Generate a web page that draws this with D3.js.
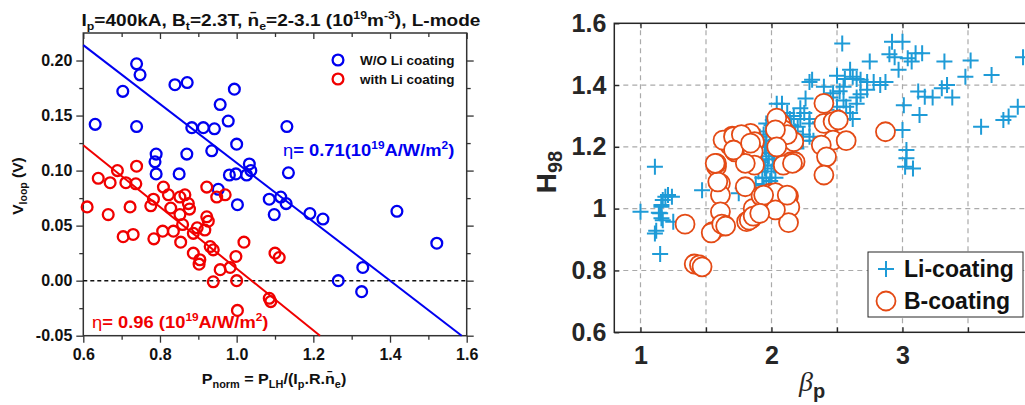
<!DOCTYPE html>
<html>
<head>
<meta charset="utf-8">
<script src="https://cdn.jsdelivr.net/npm/d3@7"></script>
<style>
  body { margin: 0; background: #fff; }
  text { font-family: "Liberation Sans", Arial, sans-serif; }
</style>
</head>
<body>
<div id="chart"></div>
<script>
// ---- left panel data: [P_norm, V_loop]
const woLi = [[0.631,0.142],[0.703,0.172],[0.739,0.197],[0.748,0.187],[0.739,0.140],[0.79,0.115],[0.787,0.108],[0.79,0.097],
  [0.839,0.178],[0.871,0.180],[0.85,0.097],[0.87,0.115],[0.883,0.139],[0.913,0.139],[0.942,0.138],[0.957,0.160],[0.935,0.118],
  [0.978,0.145],[0.994,0.174],[1.0,0.124],[0.981,0.096],[0.952,0.083],[0.998,0.097],[1.026,0.096],[1.033,0.106],[1.037,0.100],
  [1.002,0.069],[1.131,0.140],[1.135,0.098],[1.085,0.074],[1.115,0.076],[1.129,0.070],[1.098,0.060],[1.191,0.061],[1.225,0.056],
  [1.418,0.063],[1.522,0.034],[1.329,0.012],[1.265,0.000],[1.326,-0.010]];
const withLi = [[0.610,0.067],[0.639,0.093],[0.670,0.089],[0.689,0.100],[0.711,0.089],[0.739,0.104],[0.737,0.088],[0.665,0.060],
  [0.722,0.067],[0.783,0.074],[0.776,0.068],[0.809,0.085],[0.822,0.078],[0.828,0.066],[0.852,0.076],[0.865,0.078],[0.874,0.070],
  [0.877,0.065],[0.852,0.060],[0.922,0.085],[0.948,0.076],[0.970,0.078],[0.922,0.058],[0.704,0.040],[0.730,0.042],[0.784,0.038],
  [0.807,0.045],[0.835,0.045],[0.854,0.035],[0.859,0.051],[0.887,0.043],[0.897,0.048],[0.917,0.046],[0.926,0.054],[0.887,0.025],
  [0.904,0.019],[0.902,0.015],[0.931,0.031],[0.939,0.028],[0.957,0.010],[0.983,0.012],[0.998,0.022],[1.0,0.000],[0.939,-0.001],
  [1.019,0.035],[1.002,-0.027],[1.100,0.025],[1.111,0.021],[1.085,-0.016],[1.089,-0.019]];
const woLiFit = [[0.6,0.214],[1.587,-0.05]];
const withLiFit = [[0.6,0.123],[1.2175,-0.05]];
const leftXTicks = [0.6,0.8,1.0,1.2,1.4,1.6];
const leftYTicks = [-0.05,0.00,0.05,0.10,0.15,0.20];

// ---- right panel data: [beta_p, H98]
const liCoating = [[1.0,0.99],[1.11,0.92],[1.15,0.853],[1.15,0.985],[1.16,1.006],[1.17,1.028],[1.19,1.039],[1.21,1.044],[1.24,1.039],
  [1.17,0.963],[1.25,0.958],[1.11,1.136],[1.16,1.012],[1.14,0.987],[1.16,0.969],[1.12,0.929],[1.47,1.06],[1.75,1.05],[1.78,1.066],
  [1.88,1.08],[1.9,1.12],[1.92,1.15],[1.93,1.18],[1.95,1.2],[1.96,1.1],[1.97,1.14],[1.98,1.17],[1.99,1.22],[2.0,1.12],[2.01,1.16],
  [2.02,1.19],[1.94,1.06],[1.97,1.04],[2.0,1.07],[2.03,1.1],[1.96,1.25],[2.0,1.27],[2.04,1.23],[1.91,1.22],[1.95,1.13],[1.99,1.09],
  [2.02,1.14],[1.93,1.1],[1.89,1.16],[1.96,1.18],[2.05,1.17],[2.06,1.26],[1.98,1.2],[1.94,1.24],[2.04,1.2],[2.01,1.244],[1.96,1.276],
  [1.96,1.206],[1.91,1.233],[2.03,1.05],[1.98,1.07],[1.92,1.04],[1.94,1.077],[1.91,1.157],
  [2.08,1.34],[2.04,1.34],[2.12,1.31],[2.14,1.29],[2.17,1.30],[2.2,1.265],[2.22,1.29],[2.24,1.24],[2.22,1.325],[2.29,1.29],
  [2.29,1.276],[2.32,1.22],[2.19,1.195],[2.24,1.22],[2.29,1.233],[2.1,1.25],[2.15,1.27],[2.26,1.357],[2.31,1.417],[2.13,1.23],
  [2.18,1.25],[2.25,1.31],[2.37,1.28],[2.42,1.32],[2.5,1.33],[2.57,1.33],[2.52,1.298],[2.6,1.31],[2.65,1.34],[2.62,1.29],[2.55,1.35],
  [2.45,1.36],[2.47,1.374],[2.52,1.38],[2.65,1.36],[2.68,1.37],[2.73,1.385],[2.40,1.395],[2.55,1.395],[2.29,1.41],[2.50,1.43],
  [2.60,1.45],[2.62,1.427],[2.56,1.42],[2.65,1.42],[2.68,1.417],[2.73,1.41],[2.78,1.41],[2.83,1.40],[2.87,1.41],[2.54,1.535],
  [2.75,1.476],[2.01,1.287],
  [2.92,1.54],[3.0,1.54],[2.94,1.49],[2.90,1.50],[3.04,1.487],[3.10,1.503],[3.15,1.503],[3.07,1.476],[2.97,1.45],[3.32,1.476],
  [3.52,1.48],[3.48,1.427],[3.68,1.433],[3.92,1.49],[3.12,1.379],[3.17,1.362],[3.30,1.39],[3.34,1.40],[3.38,1.36],[3.23,1.36],
  [3.01,1.335],[3.13,1.303],[3.0,1.255],[3.60,1.265],[3.77,1.287],[3.81,1.298],[3.88,1.33],[3.03,1.19],[3.03,1.163],[3.08,1.13],
  [3.02,1.136]];
const bCoating = [[1.34,0.95],[1.41,0.821],[1.45,0.818],[1.47,0.812],[1.58,1.136],[1.61,1.082],[1.61,1.044],[1.61,0.99],[1.55,0.926],
  [1.61,0.942],[1.64,0.947],[1.59,1.087],[1.81,0.958],[1.85,0.969],[1.86,1.001],[1.93,1.039],[2.04,1.001],[1.80,1.071],[1.54,0.922],
  [1.62,0.95],[1.65,0.944],[1.58,1.147],[1.70,1.235],[1.68,1.206],[1.72,1.184],[1.78,1.222],[1.84,1.244],[1.87,1.217],[1.86,1.184],
  [1.87,1.141],[1.80,1.147],[1.83,0.963],[1.86,0.976],[1.92,1.041],[1.99,1.05],[2.03,1.052],[2.13,1.041],[2.14,1.005],[2.13,0.955],
  [2.07,1.276],[2.09,1.255],[2.10,1.233],[2.14,1.217],[2.09,1.19],[2.15,1.152],[2.09,1.141],[2.40,1.341],[2.40,1.276],[2.47,1.282],
  [2.51,1.287],[2.47,1.222],[2.57,1.22],[2.38,1.206],[2.42,1.168],[2.40,1.109],[2.87,1.249],[2.17,1.217],[2.18,1.152],[2.12,1.24],
  [2.16,1.147],[2.03,0.996],[2.12,1.044],[1.94,1.044],[1.91,0.985],[1.63,1.222],[1.71,1.233],[1.77,1.24],[1.71,1.19],[1.84,1.212],
  [2.04,1.293],[2.03,1.255],[2.04,1.2],[1.57,1.147]];
const rightXTicks = [1, 2, 3];
const rightXGrid = [1, 1.5, 2, 2.5, 3, 3.5, 4];
const rightYTicks = [0.6, 0.8, 1, 1.2, 1.4, 1.6];

const svg = d3.select("#chart").append("svg")
  .attr("width", 1025).attr("height", 405);

// ================= LEFT PANEL =================
const xL = d3.scaleLinear().domain([0.6, 1.6]).range([83.3, 466.7]);
const yL = d3.scaleLinear().domain([-0.05, 0.225]).range([335.7, 33]);
const axisCol = "#333";

const left = svg.append("g");

function styleAxis(g) {
  g.select(".domain").remove();
  g.selectAll(".tick line").attr("stroke", axisCol).attr("stroke-width", 1.3);
  g.selectAll("text").attr("fill", "#111").style("font-size", "16px").style("font-weight", "bold");
}

// minor ticks
left.append("g").attr("transform", "translate(0,335.7)")
  .call(d3.axisBottom(xL).tickValues(d3.range(0.7, 1.6, 0.2)).tickSize(4).tickFormat(""))
  .call(styleAxis);
left.append("g").attr("transform", "translate(83.3,0)")
  .call(d3.axisLeft(yL).tickValues([-0.025,0.025,0.075,0.125,0.175]).tickSize(4).tickFormat(""))
  .call(styleAxis);
left.append("g").attr("transform", "translate(466.7,0)")
  .call(d3.axisRight(yL).tickValues([-0.025,0.025,0.075,0.125,0.175]).tickSize(4).tickFormat(""))
  .call(styleAxis);
left.append("g").attr("transform", "translate(0,33)")
  .call(d3.axisBottom(xL).tickValues(d3.range(0.7, 1.6, 0.2)).tickSize(4).tickFormat(""))
  .call(styleAxis);

// major ticks
left.append("g").attr("transform", "translate(0,335.7)")
  .call(d3.axisBottom(xL).tickValues(leftXTicks).tickSize(7).tickPadding(6).tickFormat(d => d.toFixed(1)))
  .call(styleAxis);
left.append("g").attr("transform", "translate(83.3,0)")
  .call(d3.axisLeft(yL).tickValues(leftYTicks).tickSize(7).tickPadding(4).tickFormat(d => d.toFixed(2)))
  .call(styleAxis);
left.append("g").attr("transform", "translate(466.7,0)")
  .call(d3.axisRight(yL).tickValues(leftYTicks).tickSize(7).tickFormat(""))
  .call(styleAxis);
left.append("g").attr("transform", "translate(0,33)")
  .call(d3.axisBottom(xL).tickValues(leftXTicks).tickSize(6).tickFormat(""))
  .call(styleAxis);

left.append("rect")
  .attr("x", xL(0.6)).attr("y", yL(0.225))
  .attr("width", xL(1.6) - xL(0.6)).attr("height", yL(-0.05) - yL(0.225))
  .attr("fill", "none").attr("stroke", axisCol).attr("stroke-width", 1.5);

// zero line
left.append("line")
  .attr("x1", xL(0.6)).attr("x2", xL(1.6)).attr("y1", yL(0)).attr("y2", yL(0))
  .attr("stroke", "#111").attr("stroke-width", 1.5).attr("stroke-dasharray", "4,3");

const line = d3.line().x(d => xL(d[0])).y(d => yL(d[1]));
left.append("path").datum(woLiFit).attr("d", line)
  .attr("stroke", "#0000f0").attr("stroke-width", 2).attr("fill", "none");
left.append("path").datum(withLiFit).attr("d", line)
  .attr("stroke", "#f00000").attr("stroke-width", 2).attr("fill", "none");

left.append("g").selectAll("circle").data(woLi).enter().append("circle")
  .attr("cx", d => xL(d[0])).attr("cy", d => yL(d[1])).attr("r", 5.4)
  .attr("fill", "none").attr("stroke", "#0000f0").attr("stroke-width", 2.3);
left.append("g").selectAll("circle").data(withLi).enter().append("circle")
  .attr("cx", d => xL(d[0])).attr("cy", d => yL(d[1])).attr("r", 5.4)
  .attr("fill", "none").attr("stroke", "#f00000").attr("stroke-width", 2.3);

// legend
const legL = [["W/O Li coating", "#0000f0", 60], ["with Li coating", "#f00000", 79]];
legL.forEach(([t, c, y]) => {
  left.append("circle").attr("cx", 338).attr("cy", y).attr("r", 5.4)
    .attr("fill", "none").attr("stroke", c).attr("stroke-width", 2.3);
  left.append("text").attr("x", 360).attr("y", y + 5).text(t)
    .style("font-size", "13.5px").style("font-weight", "bold").attr("fill", "#111");
});

// annotations
function eta(g, x, y, col, val) {
  const t = g.append("text").attr("transform", `translate(${x},${y}) scale(1.08,1)`).attr("fill", col)
    .style("font-size", "17px").style("font-weight", "bold");
  t.append("tspan").text("\u03b7").style("font-weight", "normal");
  t.append("tspan").text("= " + val);
  t.append("tspan").attr("dy", -7).style("font-size", "11px").text("19");
  t.append("tspan").attr("dy", 7).text("A/W/m");
  t.append("tspan").attr("dy", -7).style("font-size", "11px").text("2");
  t.append("tspan").attr("dy", 7).text(")");
}
eta(left, 283, 156, "#0000f0", "0.71(10");
eta(left, 92, 328, "#f00000", "0.96 (10");

// title
const title = left.append("text").attr("transform", "translate(281,26) scale(1.12,1)").attr("text-anchor", "middle")
  .attr("fill", "#111").style("font-size", "17px").style("font-weight", "bold");
[["I",0,null],["p",4,"11px"],["=400kA, B",-4,null],["t",4,"11px"],["=2.3T, n\u0304",-4,null],["e",4,"11px"],
 ["=2-3.1 (10",-4,null],["19",-7,"11px"],["m",7,null],["-3",-7,"11px"],["), L-mode",7,null]]
  .forEach(([s, dy, fs]) => {
    const ts = title.append("tspan").attr("dy", dy).text(s);
    if (fs) ts.style("font-size", fs);
  });

// y label
const yl = left.append("text").attr("transform", "translate(23,186) rotate(-90)")
  .attr("text-anchor", "middle").attr("fill", "#111")
  .style("font-size", "15.5px").style("font-weight", "bold");
yl.append("tspan").text("V");
yl.append("tspan").attr("dy", 4).style("font-size", "10.5px").text("loop");
yl.append("tspan").attr("dy", -4).text(" (V)");

// x label
const xl = left.append("text").attr("transform", "translate(274,384) scale(1.04,1)").attr("text-anchor", "middle")
  .attr("fill", "#111").style("font-size", "15.5px").style("font-weight", "bold");
[["P",0,null],["norm",4,"10.5px"],[" = P",-4,null],["LH",4,"10.5px"],["/(I",-4,null],["p",4,"10.5px"],
 [".R.n\u0304",-4,null],["e",4,"10.5px"],[")",-4,null]].forEach(([s, dy, fs]) => {
  const ts = xl.append("tspan").attr("dy", dy).text(s);
  if (fs) ts.style("font-size", fs);
});

// ================= RIGHT PANEL =================
const xR = d3.scaleLinear().domain([0.8, 4.2]).range([614.3, 614.3 + 3.4 * 131]);
const yR = d3.scaleLinear().domain([0.6, 1.6]).range([332.3, 23.3]);
const right = svg.append("g");
const darkR = "#262626";

// grid
right.append("g").selectAll("line").data(rightXGrid).enter().append("line")
  .attr("x1", d => xR(d)).attr("x2", d => xR(d)).attr("y1", yR(0.6)).attr("y2", yR(1.6))
  .attr("stroke", "#aaa").attr("stroke-width", 1.2).attr("stroke-dasharray", "5,4");
right.append("g").selectAll("line").data(rightYTicks.slice(1, 5)).enter().append("line")
  .attr("x1", xR(0.8)).attr("x2", xR(4.2)).attr("y1", d => yR(d)).attr("y2", d => yR(d))
  .attr("stroke", "#aaa").attr("stroke-width", 1.2).attr("stroke-dasharray", "5,4");

function styleR(g) {
  g.select(".domain").remove();
  g.selectAll(".tick line").attr("stroke", darkR).attr("stroke-width", 1.3);
  g.selectAll("text").attr("fill", darkR).style("font-size", "25px").style("font-weight", "bold");
}
right.append("g").attr("transform", `translate(0,${yR(0.6)})`)
  .call(d3.axisBottom(xR).tickValues(rightXGrid).tickSize(-5).tickFormat(""))
  .call(styleR);
right.append("g").attr("transform", `translate(0,${yR(0.6)})`)
  .call(d3.axisBottom(xR).tickValues(rightXTicks).tickSize(0).tickPadding(14).tickFormat(d3.format("d")))
  .call(styleR);
right.append("g").attr("transform", `translate(0,${yR(1.6)})`)
  .call(d3.axisTop(xR).tickValues(rightXGrid).tickSize(-5).tickFormat(""))
  .call(styleR);
right.append("g").attr("transform", `translate(${xR(0.8)},0)`)
  .call(d3.axisLeft(yR).tickValues(rightYTicks).tickSize(-5).tickPadding(8).tickFormat(d => String(d)))
  .call(styleR);

right.append("rect")
  .attr("x", xR(0.8)).attr("y", yR(1.6))
  .attr("width", xR(4.2) - xR(0.8)).attr("height", yR(0.6) - yR(1.6))
  .attr("fill", "none").attr("stroke", darkR).attr("stroke-width", 1.5);

const liCol = "#1e9bd7", bCol = "#e44a15";
function plusPath(x, y) { return `M${x - 8},${y}H${x + 8}M${x},${y - 8}V${y + 8}`; }
right.append("g").selectAll("path").data(liCoating).enter().append("path")
  .attr("d", d => plusPath(xR(d[0]), yR(d[1])))
  .attr("stroke", liCol).attr("stroke-width", 2).attr("fill", "none");
right.append("g").selectAll("circle").data(bCoating).enter().append("circle")
  .attr("cx", d => xR(d[0])).attr("cy", d => yR(d[1])).attr("r", 9.5)
  .attr("fill", "#fff").attr("stroke", bCol).attr("stroke-width", 1.8);

// legend
right.append("rect").attr("x", 868).attr("y", 252).attr("width", 155).attr("height", 65)
  .attr("fill", "#fff").attr("stroke", darkR).attr("stroke-width", 1);
right.append("path").attr("d", plusPath(886, 269))
  .attr("stroke", liCol).attr("stroke-width", 2).attr("fill", "none");
right.append("circle").attr("cx", 886).attr("cy", 301).attr("r", 9.5)
  .attr("fill", "#fff").attr("stroke", bCol).attr("stroke-width", 1.8);
right.append("text").attr("x", 904).attr("y", 277).text("Li-coating")
  .attr("fill", "#111").style("font-size", "23px").style("font-weight", "bold");
right.append("text").attr("x", 904).attr("y", 309).text("B-coating")
  .attr("fill", "#111").style("font-size", "23px").style("font-weight", "bold");

// axis labels
const hl = right.append("text").attr("transform", "translate(556,172) rotate(-90)")
  .attr("text-anchor", "middle").attr("fill", darkR)
  .style("font-size", "28px").style("font-weight", "bold");
hl.append("tspan").text("H");
hl.append("tspan").attr("dy", 6).style("font-size", "20px").text("98");

const bl = right.append("text").attr("x", 799).attr("y", 391).attr("fill", darkR);
bl.append("tspan").text("\u03b2").style("font-family", "'Liberation Serif', serif")
  .style("font-style", "italic").style("font-size", "28px");
bl.append("tspan").attr("dy", 7).text("p").style("font-size", "20px").style("font-weight", "bold");
</script>
</body>
</html>
